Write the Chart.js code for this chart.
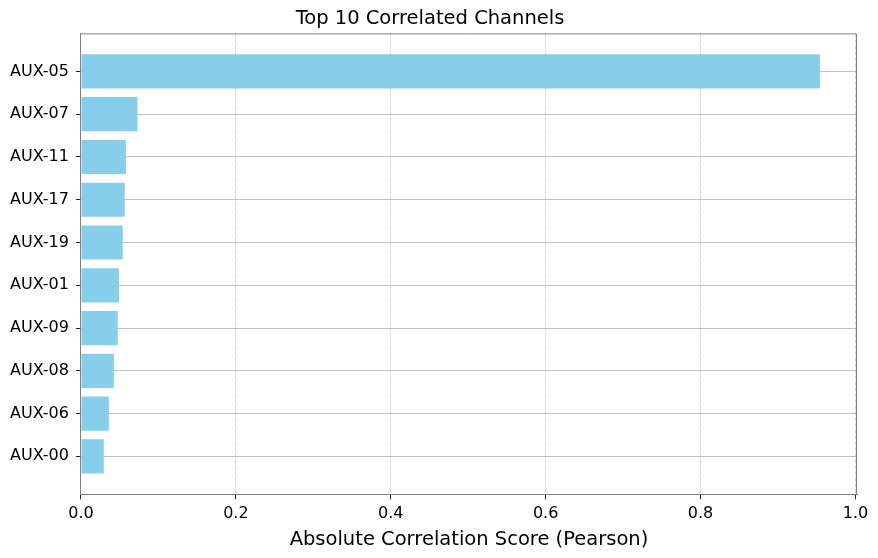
<!DOCTYPE html>
<html>
<head>
<meta charset="utf-8">
<script src="https://cdn.jsdelivr.net/npm/chart.js@4"></script>
<style>
  body { margin: 0; background: #fff; }
  #wrap { width: 878px; height: 558px; }
</style>
</head>
<body>
<div id="wrap"><canvas id="myChart"></canvas></div>
<script>
// dados do grafico (de cima para baixo)
const channels = ['AUX-05', 'AUX-07', 'AUX-11', 'AUX-17', 'AUX-19', 'AUX-01', 'AUX-09', 'AUX-08', 'AUX-06', 'AUX-00'];
const scores = [0.954, 0.073, 0.058, 0.0565, 0.054, 0.049, 0.0475, 0.0425, 0.036, 0.0295];
const xTicks = [0, 0.2, 0.4, 0.6, 0.8, 1.0];

Chart.defaults.font.family = "'DejaVu Sans', sans-serif";
Chart.defaults.color = '#000';

// moldura de cima e da direita
const frame = {
  id: 'frame',
  afterDraw(chart) {
    const a = chart.chartArea;
    const c = chart.ctx;
    c.save();
    c.strokeStyle = '#808080';
    c.lineWidth = 1;
    c.beginPath();
    c.moveTo(a.left, a.top + 0.5);
    c.lineTo(a.right - 0.5, a.top + 0.5);
    c.lineTo(a.right - 0.5, a.bottom);
    c.stroke();
    c.restore();
  }
};

const ctx = document.getElementById('myChart');

new Chart(ctx, {
  type: 'bar',
  data: {
    datasets: [{
      label: 'Score',
      data: scores.map((v, i) => ({ x: v, y: i })),
      backgroundColor: '#87CEEB',
      borderWidth: 0,
      categoryPercentage: 1,
      barPercentage: 0.8
    }]
  },
  options: {
    indexAxis: 'y',
    responsive: true,
    maintainAspectRatio: false,
    animation: false,
    layout: { padding: { left: 3, right: 21, top: 0, bottom: 6 } },
    scales: {
      y: {
        type: 'linear',
        reverse: true,
        offset: false,
        min: -0.89,
        max: channels.length - 1 + 0.89,
        z: 1,
        afterBuildTicks: (s) => { s.ticks = channels.map((c, i) => ({ value: i })); },
        ticks: {
          callback: (v) => channels[v],
          font: { size: 16 },
          color: '#000',
          padding: 7
        },
        grid: {
          offset: false,
          color: 'rgba(176,176,176,0.8)',
          lineWidth: 1,
          tickColor: '#222',
          tickLength: 5
        },
        border: { color: '#808080', width: 1 }
      },
      x: {
        type: 'linear',
        min: 0,
        max: 1.002,
        afterBuildTicks: (s) => { s.ticks = xTicks.map(v => ({ value: v })); },
        ticks: {
          callback: (v) => v.toFixed(1),
          font: { size: 16 },
          color: '#000',
          padding: 5
        },
        grid: {
          color: 'rgba(176,176,176,0.55)',
          tickBorderDash: [],
          tickColor: '#222',
          tickLength: 5
        },
        border: { color: '#808080', width: 1, dash: [4, 2] },
        title: {
          display: true,
          text: 'Absolute Correlation Score (Pearson)',
          font: { size: 19.5 },
          color: '#000',
          padding: { top: 0, bottom: 0 }
        }
      }
    },
    plugins: {
      legend: { display: false },
      tooltip: { enabled: false },
      title: {
        display: true,
        text: 'Top 10 Correlated Channels',
        font: { size: 19.5, weight: 'normal' },
        color: '#000',
        padding: { top: 7, bottom: 3 }
      }
    }
  },
  plugins: [frame]
});
</script>
</body>
</html>
